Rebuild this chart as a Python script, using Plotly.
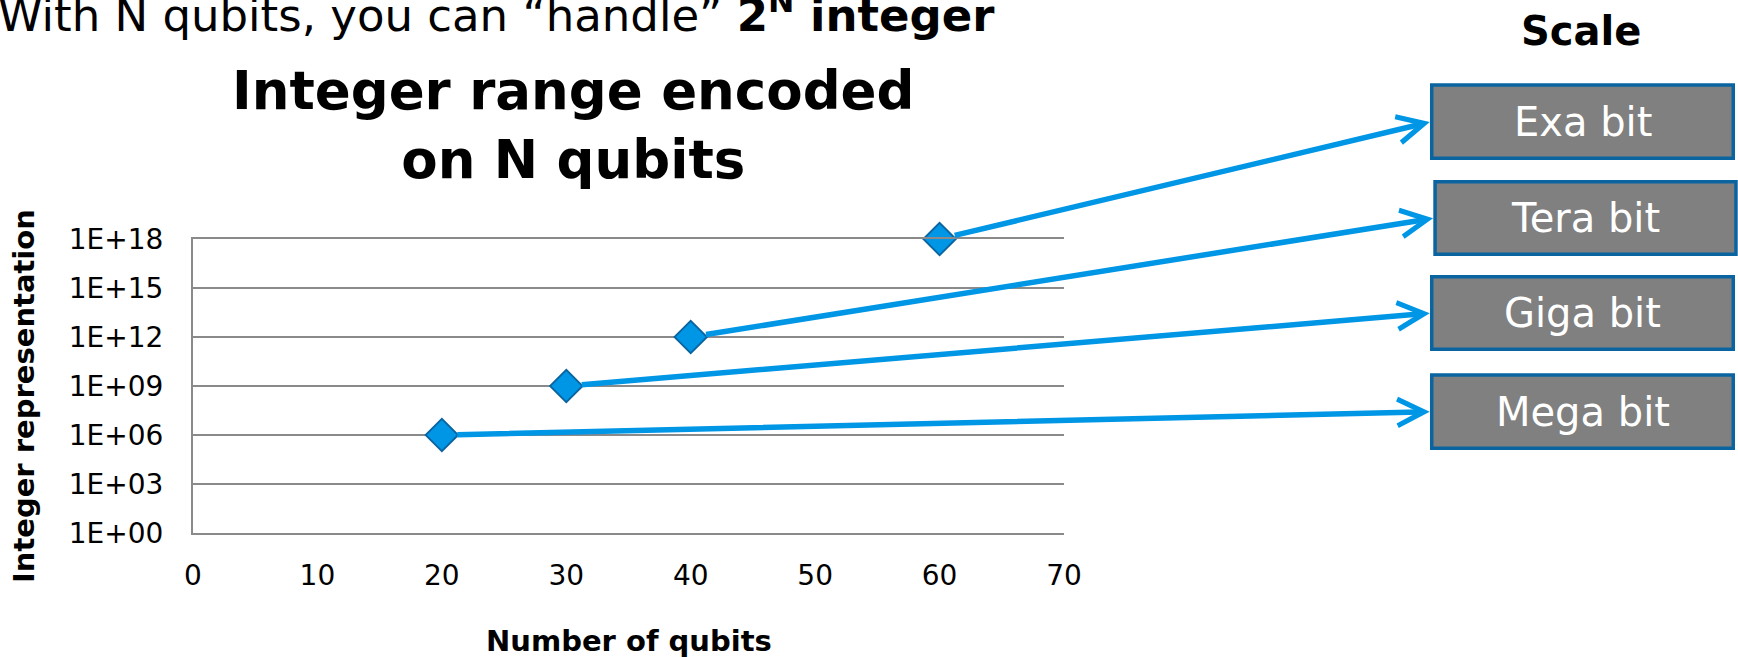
import math
import plotly.graph_objects as go

# ---- data ----
qubits = [20, 30, 40, 60]
int_values = [1e6, 1e9, 1e12, 1e18]
scale_labels = ["Mega bit", "Giga bit", "Tera bit", "Exa bit"]
y_tickvals = [1e0, 1e3, 1e6, 1e9, 1e12, 1e15, 1e18]
y_ticktext = ["1E+00", "1E+03", "1E+06", "1E+09", "1E+12", "1E+15", "1E+18"]
x_tickvals = [0, 10, 20, 30, 40, 50, 60, 70]

# ---- style / layout ----
FONT = "DejaVu Sans"
BLUE = "#0096E6"
BORDER = "#0A64A0"
GRID = "#8A8A8A"
X_RANGE = [0, 70]
Y_RANGE = [0, 18]  # log10 units

# boxes in paper coords: (x0, x1, y0, y1), order matches scale_labels
boxes = [
    (1.4222, 1.7684, 0.2881, 0.5374),
    (1.4222, 1.7684, 0.6248, 0.8718),
    (1.4260, 1.7715, 0.9480, 1.1949),
    (1.4222, 1.7684, 1.2745, 1.5238),
]

fig = go.Figure()
fig.add_trace(go.Scatter(
    x=qubits, y=int_values, mode="markers",
    marker=dict(symbol="diamond", size=25, color=BLUE,
                line=dict(color=BORDER, width=1.8)),
    cliponaxis=False, showlegend=False, hoverinfo="x+y",
))

shapes = []
annotations = []
for i, (lab, (x0, x1, y0, y1)) in enumerate(zip(scale_labels, boxes)):
    shapes.append(dict(type="rect", xref="paper", yref="paper",
                       x0=x0, x1=x1, y0=y0, y1=y1,
                       fillcolor="#808080", line=dict(color=BORDER, width=3.5),
                       layer="above"))
    annotations.append(dict(xref="paper", yref="paper", x=(x0 + x1) / 2, y=(y0 + y1) / 2,
                            text=lab, showarrow=False,
                            font=dict(family=FONT, size=40, color="white"),
                            xanchor="center", yanchor="middle"))
    # arrow from data point to box (head at box left-middle)
    head_x = X_RANGE[0] + x0 * (X_RANGE[1] - X_RANGE[0])
    head_y = Y_RANGE[0] + (y0 + y1) / 2 * (Y_RANGE[1] - Y_RANGE[0])
    annotations.append(dict(xref="x", yref="y", x=head_x, y=head_y,
                            axref="x", ayref="y", ax=qubits[i], ay=math.log10(int_values[i]),
                            text="", showarrow=True, arrowhead=5, arrowsize=0.95,
                            arrowwidth=5.5, arrowcolor=BLUE, standoff=2, startstandoff=14))

# texts
annotations += [
    dict(xref="paper", yref="paper", x=0.4363, y=1.388,
         text="<b>Integer range encoded<br>on N qubits</b>", showarrow=False,
         font=dict(family=FONT, size=53, color="black"), xanchor="center", yanchor="middle"),
    dict(xref="paper", yref="paper", x=1.5941, y=1.7075, text="<b>Scale</b>", showarrow=False,
         font=dict(family=FONT, size=40, color="black"), xanchor="center", yanchor="middle"),
    dict(xref="paper", yref="paper", x=0.923, y=1.6616,
         text="With N qubits, you can \u201chandle\u201d <b>2<sup>N</sup> integer</b>", showarrow=False,
         font=dict(family=FONT, size=45, color="black"), xanchor="right", yanchor="bottom"),
    dict(xref="paper", yref="paper", x=-0.194, y=0.466, text="<b>Integer representation</b>",
         textangle=-90, showarrow=False,
         font=dict(family=FONT, size=29, color="black"), xanchor="center", yanchor="middle"),
    dict(xref="paper", yref="paper", x=0.5, y=-0.367, text="<b>Number of qubits</b>",
         showarrow=False, font=dict(family=FONT, size=29, color="black"),
         xanchor="center", yanchor="middle"),
]

fig.update_layout(
    width=1738, height=657,
    margin=dict(l=193, r=674, t=239, b=124, pad=0),
    paper_bgcolor="white", plot_bgcolor="white",
    shapes=shapes, annotations=annotations,
    showlegend=False,
    font=dict(family=FONT, color="black"),
)
fig.update_xaxes(range=X_RANGE, tickmode="array", tickvals=x_tickvals,
                 showgrid=False, zeroline=False, showline=True, mirror=True,
                 linecolor=GRID, linewidth=2,
                 ticks="", ticklabelstandoff=16,
                 tickfont=dict(family=FONT, size=28, color="black"))
fig.update_yaxes(type="log", range=Y_RANGE, tickmode="array", tickvals=y_tickvals,
                 ticktext=y_ticktext, showgrid=True, gridcolor=GRID, gridwidth=2,
                 zeroline=False, showline=True, linecolor=GRID, linewidth=2,
                 ticks="", ticklabelstandoff=22,
                 tickfont=dict(family=FONT, size=28, color="black"))

fig.write_html("out.html")
